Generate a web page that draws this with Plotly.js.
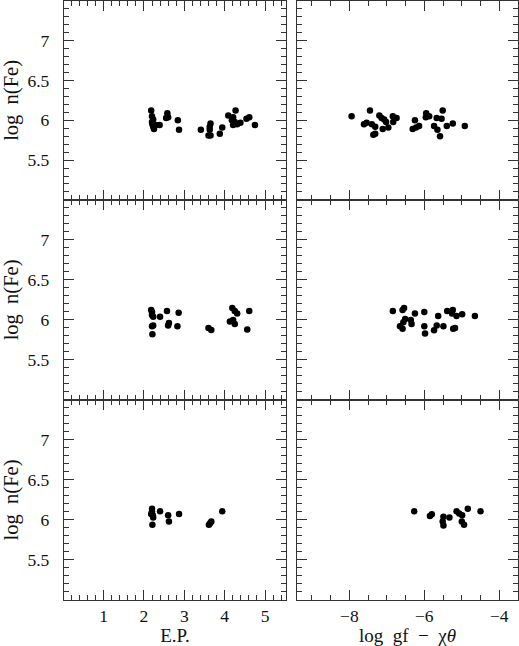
<!DOCTYPE html>
<html>
<head>
<meta charset="utf-8">
<script src="https://cdn.plot.ly/plotly-3.0.1.min.js"></script>
<style>body{margin:0;background:#fff}</style>
</head>
<body>
<div id="chart" style="width:519px;height:646px"></div>
<script>
// row 1
const ep1 = [2.18,2.20,2.23,2.20,2.21,2.23,2.25,2.30,2.39,2.58,2.60,2.55,2.84,2.87,3.41,3.65,3.63,3.63,3.60,3.65,3.88,3.94,4.09,4.27,4.21,4.18,4.25,4.21,4.31,4.39,4.54,4.61,4.75]
const ab1 = [6.125,6.05,6.01,5.98,5.95,5.92,5.89,5.94,5.94,6.09,6.04,6.03,6.00,5.88,5.88,5.96,5.92,5.88,5.81,5.81,5.83,5.91,6.06,6.125,6.04,6.00,5.98,5.94,5.95,5.97,6.02,6.04,5.94]
const gf1 = [-7.94,-7.45,-7.61,-7.54,-7.40,-7.31,-7.36,-7.31,-7.20,-7.14,-7.07,-7.02,-7.11,-6.96,-6.83,-6.84,-6.74,-6.25,-6.31,-6.22,-6.14,-5.95,-5.96,-5.87,-5.67,-5.54,-5.51,-5.74,-5.65,-5.58,-5.40,-5.24,-4.92]
const ab1r = [6.05,6.125,5.95,5.97,5.95,5.92,5.82,5.83,6.06,6.03,6.01,5.98,5.89,5.91,5.98,6.05,6.03,6.00,5.89,5.91,5.93,6.09,6.04,6.05,6.03,6.02,6.125,5.93,5.88,5.80,5.93,5.96,5.93]

// row 2
const ep2 = [2.18,2.20,2.20,2.23,2.40,2.57,2.86,2.20,2.23,2.21,2.60,2.62,2.83,3.60,3.67,4.19,4.25,4.31,4.13,4.21,4.25,4.56,4.61]
const ab2 = [6.125,6.10,6.06,6.04,6.04,6.11,6.09,5.92,5.93,5.82,5.93,5.96,5.92,5.90,5.875,6.15,6.11,6.08,5.98,6.00,5.95,5.88,6.11]
const gf2 = [-6.84,-6.58,-6.54,-6.25,-6.00,-6.51,-6.56,-6.65,-6.58,-6.36,-6.34,-6.00,-5.98,-5.74,-5.67,-5.63,-5.49,-5.39,-5.24,-5.26,-5.14,-4.99,-5.23,-5.18,-4.65]
const ab2r = [6.11,6.125,6.15,6.08,6.10,6.01,5.97,5.92,5.89,6.00,5.95,5.92,5.83,5.87,5.93,6.05,5.92,6.11,6.125,6.08,6.05,6.07,5.89,5.90,6.05]

// row 3
const ep3 = [2.20,2.20,2.18,2.22,2.23,2.21,2.40,2.60,2.62,2.87,3.61,3.64,3.67,3.94]
const ab3 = [6.14,6.11,6.075,6.06,6.03,5.94,6.11,6.06,5.98,6.075,5.94,5.96,5.98,6.11]
const gf3 = [-6.27,-5.85,-5.80,-5.49,-5.51,-5.49,-5.33,-5.14,-5.07,-4.99,-5.00,-4.94,-4.84,-4.50]
const ab3r = [6.11,6.05,6.07,6.04,5.98,5.93,6.03,6.11,6.08,6.06,5.98,5.94,6.14,6.11]

const yTicks = [5.5, 6, 6.5, 7]
const epTicks = [1, 2, 3, 4, 5]
const gfTicks = [-8, -6, -4]

const font = {family: 'Liberation Serif, DejaVu Serif, serif', size: 17.5, color: '#111'}
const titleFont = Object.assign({}, font, {size: 19})
const mk = {color: '#000', size: 6.5}

let traces = [
  {x: ep1, y: ab1, xaxis: 'x', yaxis: 'y'},
  {x: gf1, y: ab1r, xaxis: 'x2', yaxis: 'y2'},
  {x: ep2, y: ab2, xaxis: 'x3', yaxis: 'y3'},
  {x: gf2, y: ab2r, xaxis: 'x4', yaxis: 'y4'},
  {x: ep3, y: ab3, xaxis: 'x5', yaxis: 'y5'},
  {x: gf3, y: ab3r, xaxis: 'x6', yaxis: 'y6'}
].map(t => Object.assign(t, {type: 'scatter', mode: 'markers', marker: mk, showlegend: false}))

function xAxis(col, row, yname) {
  const left = col === 1
  let ax = {
    domain: left ? [0, 0.489] : [0.513, 1],
    anchor: yname,
    range: left ? [0.02, 5.52] : [-9.4, -3.5],
    showline: true, linecolor: '#333', linewidth: 1.2,
    mirror: 'ticks', ticks: 'inside', ticklen: 10, tickcolor: '#333',
    tickmode: 'array', tickvals: left ? epTicks : gfTicks,
    ticktext: left ? epTicks.map(String) : gfTicks.map(v => '\u2212' + Math.abs(v)),
    minor: {dtick: left ? 0.2 : 0.5, tick0: 0, ticks: 'inside', ticklen: 5, tickcolor: '#333', showgrid: false},
    showgrid: false, zeroline: false, fixedrange: true,
    showticklabels: row === 3, tickfont: font, ticklabelstandoff: 0
  }
  if (row === 3) {
    ax.title = {text: left ? 'E.P.' : 'log  gf  \u2212  \u03c7<i>\u03b8</i>', font: titleFont, standoff: 2}
  }
  return ax
}

function yAxis(col, row, xname) {
  const doms = [[0.668, 1], [0.334, 0.668], [0, 0.334]]
  let ax = {
    domain: doms[row - 1],
    anchor: xname,
    range: [5, 7.5],
    showline: true, linecolor: '#333', linewidth: 1.2,
    mirror: 'ticks', ticks: 'inside', ticklen: 10, tickcolor: '#333',
    tickmode: 'array', tickvals: yTicks, ticktext: yTicks.map(String),
    minor: {dtick: 0.1, tick0: 5, ticks: 'inside', ticklen: 5, tickcolor: '#333', showgrid: false},
    showgrid: false, zeroline: false, fixedrange: true,
    showticklabels: col === 1, tickfont: font, ticklabelstandoff: 10
  }
  if (col === 1) {
    ax.title = {text: 'log  n(Fe)', font: Object.assign({}, font, {size: 20.5}), standoff: 5}
  }
  return ax
}

let layout = {
  width: 519, height: 646,
  margin: {l: 64, r: 1, t: 1, b: 46},
  paper_bgcolor: '#fff', plot_bgcolor: '#fff',
  font: font
}
let n = 1
for (let row = 1; row <= 3; row++) {
  for (let col = 1; col <= 2; col++) {
    const s = n === 1 ? '' : String(n)
    layout['xaxis' + s] = xAxis(col, row, 'y' + s)
    layout['yaxis' + s] = yAxis(col, row, 'x' + s)
    n++
  }
}

Plotly.newPlot('chart', traces, layout, {displayModeBar: false, staticPlot: true})
</script>
</body>
</html>
